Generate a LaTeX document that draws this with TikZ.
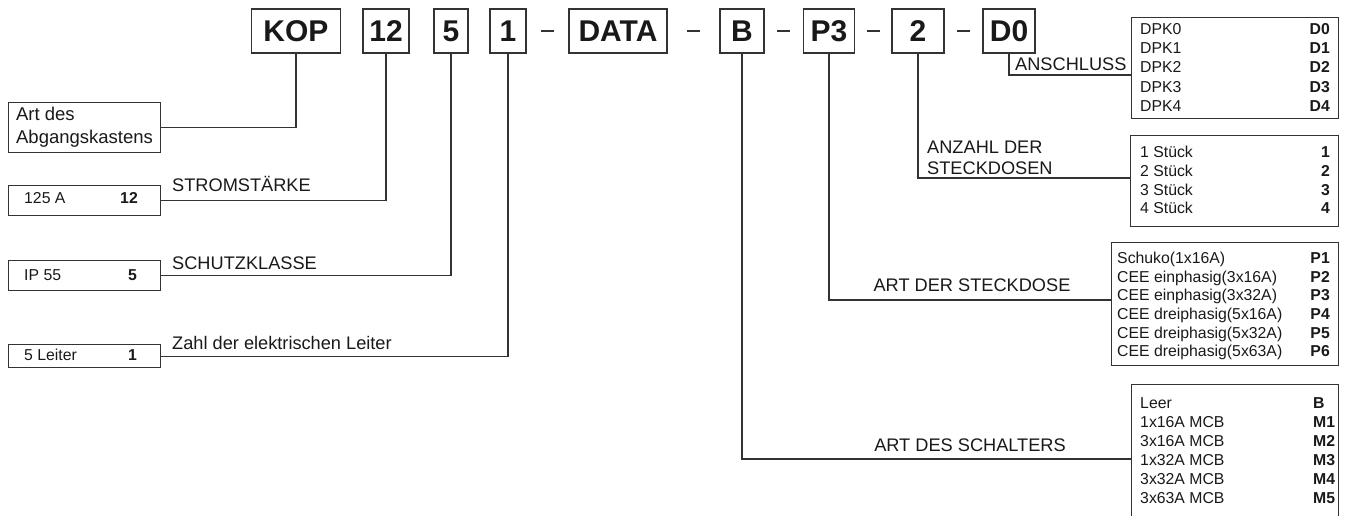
\documentclass[tikz,border=0pt]{standalone}
\usepackage{fontspec}
\setmainfont{Liberation Sans}
\usetikzlibrary{calc}

\tikzset{
  topbox/.style={draw=black!80, line width=1.2pt, inner sep=0pt, minimum height=44pt,
    text height=21.5pt, text depth=0pt, text=black!90,
    font=\fontsize{30}{36}\selectfont\bfseries},
  infobox/.style={draw=black!80, line width=1.1pt, inner sep=0pt, anchor=north west},
  itemtxt/.style={inner sep=0pt, text=black!90, font=\fontsize{15.8}{18.6}\selectfont},
  codetxt/.style={inner sep=0pt, text=black!90, font=\fontsize{15.8}{18.6}\selectfont\bfseries},
  labtxt/.style={inner sep=0pt, text=black!90, font=\fontsize{18.2}{23}\selectfont},
  wire/.style={draw=black!80, line width=1.1pt},
}

\begin{document}
\begin{tikzpicture}[x=1pt, y=-1pt]
\useasboundingbox (0,0) rectangle (1348,516);
\clip (0,0) rectangle (1348,516);

\node[topbox, minimum width=89pt] (kop) at (296,31) {KOP};
\node[topbox, minimum width=46pt] (amp) at (386,31) {12};
\node[topbox, minimum width=34pt] (ip) at (451,31) {5};
\node[topbox, minimum width=36pt] (ltr) at (508,31) {1};
\node[topbox, minimum width=98pt] (data) at (618,31) {DATA};
\node[topbox, minimum width=44pt] (sw) at (742,31) {B};
\node[topbox, minimum width=51pt] (sock) at (829,31) {P3};
\node[topbox, minimum width=52pt] (num) at (918,31) {2};
\node[topbox, minimum width=52pt] (con) at (1009,31) {D0};
\foreach \a/\b in {ltr/data, data/sw, sw/sock, sock/num, num/con}
  \draw[wire] ($(\a.east)!0.5!(\b.west)$) +(-6.5,0) -- +(6.5,0);

% links
\node[infobox, minimum width=152pt, minimum height=50pt, align=left,
  font=\fontsize{18.5}{23}\selectfont, text=black!90] (kind) at (8,102) {Art des\\Abgangskastens};
\draw[wire] (kop.south) |- (kind.east);

\node[infobox, minimum width=152pt, minimum height=30pt] (curr) at (8,185) {};
\node[itemtxt, anchor=base west] (currl) at (24,203.6) {125 A};
\node[codetxt, anchor=base east] (currc) at (138,203.6) {12};
\node[labtxt, anchor=base west] (currlab) at (172,191.5) {STROMSTÄRKE};
\draw[wire] (amp.south) |- (curr.east);

\node[infobox, minimum width=152pt, minimum height=30pt] (prot) at (8,260) {};
\node[itemtxt, anchor=base west] (protl) at (24,280.6) {IP 55};
\node[codetxt, anchor=base east] (protc) at (137,280.6) {5};
\node[labtxt, anchor=base west] (protlab) at (172,269.5) {SCHUTZKLASSE};
\draw[wire] (ip.south) |- (prot.east);

\node[infobox, minimum width=152pt, minimum height=23pt] (cond) at (8,344) {};
\node[itemtxt, anchor=base west] (condl) at (24,360.6) {5 Leiter};
\node[codetxt, anchor=base east] (condc) at (137,360.6) {1};
\node[labtxt, anchor=base west] (condlab) at (172,349.5) {Zahl der elektrischen Leiter};
\draw[wire] (ltr.south) |- (cond.east);

% rechts
\node[infobox, minimum width=207pt, minimum height=101pt] (conlist) at (1131,17) {};
\foreach \i in {0,...,4} {
  \node[itemtxt, anchor=base west] (conl\i) at (1140,34.6+19.2*\i) {DPK\i};
  \node[codetxt, anchor=base east] (conc\i) at (1330,34.6+19.2*\i) {D\i};
}
\node[labtxt, anchor=base west] (conlab) at (1015,71) {ANSCHLUSS};
\draw[wire] (con.south) |- (conlist.west |- 0,75);

\node[infobox, minimum width=208pt, minimum height=91pt] (cntlist) at (1130,135) {};
\foreach \i in {1,...,4} {
  \node[itemtxt, anchor=base west] (cntl\i) at (1140,138.9+18.7*\i) {\i{} Stück};
  \node[codetxt, anchor=base east] (cntc\i) at (1330,138.9+18.7*\i) {\i};
}
\node[labtxt, anchor=base west] (cntlab) at (927,153.5) {ANZAHL DER};
\node[labtxt, anchor=base west] (cntlab2) at (927,174.5) {STECKDOSEN};
\draw[wire] (num.south) |- (cntlist.west |- 0,178);

\node[infobox, minimum width=227pt, minimum height=123pt] (socklist) at (1111,242) {};
\foreach \t/\c [count=\i from 0] in {Schuko(1x16A)/P1, CEE einphasig(3x16A)/P2,
    CEE einphasig(3x32A)/P3, CEE dreiphasig(5x16A)/P4, CEE dreiphasig(5x32A)/P5,
    CEE dreiphasig(5x63A)/P6} {
  \node[itemtxt, anchor=base west] (sockl\i) at (1117,263.6+18.6*\i) {\t};
  \node[codetxt, anchor=base east] (sockc\i) at (1330,263.6+18.6*\i) {\c};
}
\node[labtxt, anchor=base] (socklab) at (972,291.5) {ART DER STECKDOSE};
\draw[wire] (sock.south) |- (socklist.west |- 0,300);

\node[infobox, minimum width=207pt, minimum height=160pt] (swlist) at (1131,384) {};
\foreach \t/\c [count=\i from 0] in {Leer/B, 1x16A MCB/M1, 3x16A MCB/M2,
    1x32A MCB/M3, 3x32A MCB/M4, 3x63A MCB/M5} {
  \node[itemtxt, anchor=base west] (swl\i) at (1140,408.6+19*\i) {\t};
  \node[codetxt, anchor=base west] (swc\i) at (1313,408.6+19*\i) {\c};
}
\node[labtxt, anchor=base] (swlab) at (970,451) {ART DES SCHALTERS};
\draw[wire] (sw.south) |- (swlist.west |- 0,459);
\end{tikzpicture}
\end{document}
